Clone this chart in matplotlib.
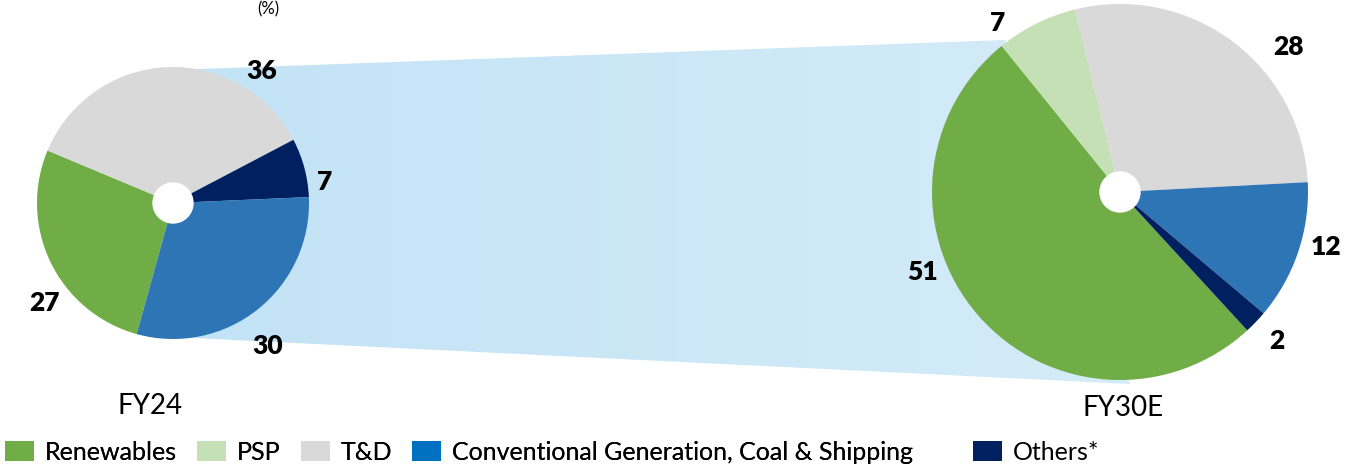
import numpy as np
import matplotlib.pyplot as plt
from matplotlib.patches import Polygon, Circle, Patch
from matplotlib.colors import LinearSegmentedColormap

plt.rcParams['font.family'] = ['Lato', 'DejaVu Sans']

# data
segments = ['Renewables', 'PSP', 'T&D', 'Conventional Generation, Coal & Shipping', 'Others*']
fy24_order = ['Renewables', 'T&D', 'Others*', 'Conventional Generation, Coal & Shipping']
fy24_values = [27, 36, 7, 30]
fy30_order = ['Renewables', 'PSP', 'T&D', 'Conventional Generation, Coal & Shipping', 'Others*']
fy30_values = [51, 7, 28, 12, 2]
years = ['FY24', 'FY30E']

pie_colors = {
    'Renewables': '#70ad47',
    'PSP': '#c5e0b4',
    'T&D': '#d9d9d9',
    'Conventional Generation, Coal & Shipping': '#2e75b6',
    'Others*': '#002060',
}
legend_colors = {
    'Renewables': '#70ad47',
    'PSP': '#c5e0b4',
    'T&D': '#d9d9d9',
    'Conventional Generation, Coal & Shipping': '#0070c0',
    'Others*': '#002060',
}

W, H = 1365, 470
fig = plt.figure(figsize=(W / 100, H / 100), dpi=100)
ax = fig.add_axes([0, 0, 1, 1])

def py(y):
    # pixel row from top -> data y
    return H - y

# layout: pie centres / radii in pixels
c1, r1 = (173, py(203)), 136
c2, r2 = (1120, py(192)), 188

# connecting band with soft gradient
band = Polygon([(173, py(70)), (1005, py(40)), (1130, py(384)), (173, py(337))],
               closed=True, facecolor='none', edgecolor='none')
ax.add_patch(band)
grad = np.linspace(0, 1, 256).reshape(1, -1)
cmap = LinearSegmentedColormap.from_list('band', ['#c2e3f6', '#d5ecf8'])
im = ax.imshow(grad, extent=[173, 1130, py(384), py(40)], cmap=cmap, aspect='auto', zorder=1)
im.set_clip_path(band)

ax.pie(fy24_values, colors=[pie_colors[s] for s in fy24_order], center=c1, radius=r1,
       startangle=-105.5, counterclock=False, wedgeprops=dict(linewidth=0, zorder=2))
ax.pie(fy30_values, colors=[pie_colors[s] for s in fy30_order], center=c2, radius=r2,
       startangle=-47.4, counterclock=False, wedgeprops=dict(linewidth=0, zorder=2))
ax.add_patch(Circle(c1, 20, color='white', zorder=3))
ax.add_patch(Circle(c2, 20, color='white', zorder=3))

# value labels (pixel positions)
pos24 = [(45, 303), (262, 71), (325, 182), (268, 346)]
pos30 = [(923, 272), (998, 23), (1288, 47), (1326, 247), (1277, 341)]
for (x, y), v in zip(pos24, fy24_values):
    ax.text(x, py(y), str(v), fontsize=19, fontweight='heavy', ha='center', va='center', zorder=4)
for (x, y), v in zip(pos30, fy30_values):
    ax.text(x, py(y), str(v), fontsize=19, fontweight='heavy', ha='center', va='center', zorder=4)

ax.text(150, py(406), years[0], fontsize=20, ha='center', va='center')
ax.text(1123, py(408), years[1], fontsize=20, ha='center', va='center')

# title stub at the top edge
ax.text(268, py(1), '(%)', fontsize=12, ha='center', va='top')

ax.set_xlim(0, W)
ax.set_ylim(0, H)
ax.set_aspect('equal')
ax.axis('off')

handles = [Patch(facecolor=legend_colors[s], label=s) for s in segments]
leg_kw = dict(frameon=False, fontsize=18, handlelength=1.15, handleheight=0.9,
              handletextpad=0.45, borderaxespad=0, borderpad=0.2)
leg1 = fig.legend(handles=handles[:4], loc='center left', bbox_to_anchor=(0.0, 18 / H),
                  ncol=4, columnspacing=0.8, **leg_kw)
fig.add_artist(leg1)
fig.legend(handles=handles[4:], loc='center left', bbox_to_anchor=(968 / W, 18 / H),
           ncol=1, **leg_kw)

fig.savefig('out.png', dpi=100)
